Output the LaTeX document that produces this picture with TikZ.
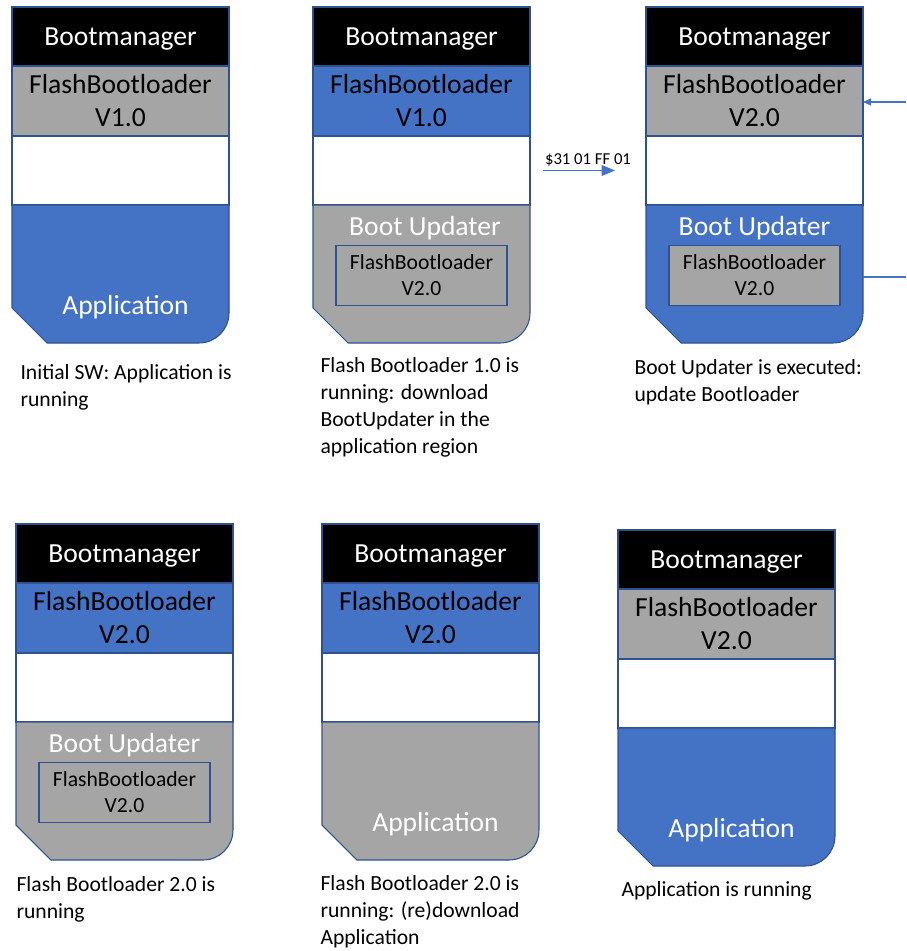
\documentclass[tikz,border=0pt]{standalone}
\usepackage{fontspec}
\setmainfont{Carlito}
\usetikzlibrary{arrows.meta}
\usetikzlibrary{positioning}
\definecolor{edgeblue}{RGB}{47,82,143}
\definecolor{appblue}{RGB}{68,114,196}
\definecolor{bootgray}{RGB}{165,165,165}
\tikzstyle{bootmgr} = [rectangle, minimum width=4.34cm, minimum height=1.18cm, outer sep=0pt, text centered, text depth=0pt, draw=edgeblue, fill=black, text=white, font=\fontsize{15.7}{18.8}\selectfont]
\tikzstyle{fbl} = [rectangle, minimum width=4.34cm, minimum height=1.4cm, outer sep=0pt, align=center, draw=edgeblue, font=\fontsize{15.7}{18.8}\selectfont]
\tikzstyle{freebox} = [rectangle, minimum width=4.34cm, minimum height=1.38cm, outer sep=0pt, draw=edgeblue, fill=white]
\tikzstyle{region} = [rectangle, minimum width=4.34cm, minimum height=2.76cm, outer sep=0pt, inner sep=0pt]
\tikzstyle{regionfill} = [draw=edgeblue]
\tikzstyle{regionlabel} = [text=white, inner sep=0pt, font=\fontsize{15.7}{18.8}\selectfont]
\tikzstyle{fblcopy} = [rectangle, minimum width=3.42cm, minimum height=1.2cm, align=center, draw=edgeblue, font=\fontsize{12.3}{14.8}\selectfont]
\tikzstyle{caption} = [align=left, inner sep=0pt, font=\fontsize{12.3}{15.4}\selectfont]
\tikzstyle{arrow} = [draw=appblue, -{Triangle[length=0.27cm,width=0.22cm]}]
\tikzstyle{link} = [draw=appblue]

\begin{document}
\begin{tikzpicture}[line width=0.6pt]
\useasboundingbox (0,0) rectangle (18.12,-19.02);

% ===== TOP ROW =====

% Panel 1: initial SW
\node (bm1) [bootmgr, anchor=north west] at (0.24,-0.14) {Bootmanager};
\node (fbl1) [fbl, fill=bootgray, below=0pt of bm1] {FlashBootloader\\V1.0};
\node (free1) [freebox, below=0pt of fbl1] {};
\node (reg1) [region, below=0pt of free1] {};
\filldraw [regionfill, fill=appblue] (reg1.north west) -- (reg1.north east) -- ([yshift=0.6cm]reg1.south east) arc[start angle=0, end angle=-90, radius=0.6cm] -- ([xshift=0.7cm]reg1.south west) -- ([yshift=0.7cm]reg1.south west) -- cycle;
\node (app1) [regionlabel] at ([xshift=0.1cm, yshift=0.72cm]reg1.south) {Application};
\node (cap1) [caption, below right=0.42cm and 0.16cm of reg1.south west] {Initial SW: Application is\\running};

% Panel 2: download Boot Updater
\node (bm2) [bootmgr, right=1.68cm of bm1] {Bootmanager};
\node (fbl2) [fbl, fill=appblue, below=0pt of bm2] {FlashBootloader\\V1.0};
\node (free2) [freebox, below=0pt of fbl2] {};
\node (reg2) [region, below=0pt of free2] {};
\filldraw [regionfill, fill=bootgray] (reg2.north west) -- (reg2.north east) -- ([yshift=0.6cm]reg2.south east) arc[start angle=0, end angle=-90, radius=0.6cm] -- ([xshift=0.7cm]reg2.south west) -- ([yshift=0.7cm]reg2.south west) -- cycle;
\node (upd2) [regionlabel] at ([xshift=0.07cm, yshift=-0.46cm]reg2.north) {Boot Updater};
\node (new2) [fblcopy, fill=bootgray, below=0.8cm of reg2.north] {FlashBootloader\\V2.0};
\node (cap2) [caption, below right=0.28cm and 0.14cm of reg2.south west] {Flash Bootloader 1.0 is\\running: download\\BootUpdater in the\\application region};

% Panel 3: Boot Updater executed
\node (bm3) [bootmgr, right=2.32cm of bm2] {Bootmanager};
\node (fbl3) [fbl, fill=bootgray, below=0pt of bm3] {FlashBootloader\\V2.0};
\node (free3) [freebox, below=0pt of fbl3] {};
\node (reg3) [region, below=0pt of free3] {};
\filldraw [regionfill, fill=appblue] (reg3.north west) -- (reg3.north east) -- ([yshift=0.6cm]reg3.south east) arc[start angle=0, end angle=-90, radius=0.6cm] -- ([xshift=0.7cm]reg3.south west) -- ([yshift=0.7cm]reg3.south west) -- cycle;
\node (upd3) [regionlabel] at ([yshift=-0.46cm]reg3.north) {Boot Updater};
\node (new3) [fblcopy, fill=bootgray, below=0.8cm of reg3.north] {FlashBootloader\\V2.0};
\node (cap3) [caption, below right=0.32cm and -0.24cm of reg3.south west] {Boot Updater is executed:\\update Bootloader};

% Request between panel 2 and 3
\draw [arrow, shorten <=0.26cm, shorten >=0.62cm] (free2.east) -- node[above, inner sep=2pt, font=\fontsize{9.5}{11}\selectfont] {\$31 01 FF 01} (free2.east -| free3.west);

% Lines at the right edge
\coordinate (in3) at (18.12,-2.04);
\coordinate (out3) at (18.12,-5.54);
\draw [arrow, -{Triangle[length=0.16cm,width=0.14cm]}] (in3) -- (in3 -| fbl3.east);
\draw [link] (out3 -| reg3.east) -- (out3);

% ===== BOTTOM ROW =====

% Panel 4: Flash Bootloader 2.0 running
\node (bm4) [bootmgr, anchor=north west] at (0.32,-10.48) {Bootmanager};
\node (fbl4) [fbl, fill=appblue, below=0pt of bm4] {FlashBootloader\\V2.0};
\node (free4) [freebox, below=0pt of fbl4] {};
\node (reg4) [region, below=0pt of free4] {};
\filldraw [regionfill, fill=bootgray] (reg4.north west) -- (reg4.north east) -- ([yshift=0.6cm]reg4.south east) arc[start angle=0, end angle=-90, radius=0.6cm] -- ([xshift=0.7cm]reg4.south west) -- ([yshift=0.7cm]reg4.south west) -- cycle;
\node (upd4) [regionlabel] at ([yshift=-0.46cm]reg4.north) {Boot Updater};
\node (new4) [fblcopy, fill=bootgray, below=0.8cm of reg4.north] {FlashBootloader\\V2.0};
\node (cap4) [caption, below right=0.32cm and 0cm of reg4.south west] {Flash Bootloader 2.0 is\\running};

% Panel 5: (re)download Application
\node (bm5) [bootmgr, right=1.78cm of bm4] {Bootmanager};
\node (fbl5) [fbl, fill=appblue, below=0pt of bm5] {FlashBootloader\\V2.0};
\node (free5) [freebox, below=0pt of fbl5] {};
\node (reg5) [region, below=0pt of free5] {};
\filldraw [regionfill, fill=bootgray] (reg5.north west) -- (reg5.north east) -- ([yshift=0.6cm]reg5.south east) arc[start angle=0, end angle=-90, radius=0.6cm] -- ([xshift=0.7cm]reg5.south west) -- ([yshift=0.7cm]reg5.south west) -- cycle;
\node (app5) [regionlabel] at ([xshift=0.1cm, yshift=0.72cm]reg5.south) {Application};
\node (cap5) [caption, below right=0.3cm and -0.04cm of reg5.south west] {Flash Bootloader 2.0 is\\running: (re)download\\Application};

% Panel 6: Application running
\node (bm6) [bootmgr, right=1.58cm of bm5, yshift=-0.12cm] {Bootmanager};
\node (fbl6) [fbl, fill=bootgray, below=0pt of bm6] {FlashBootloader\\V2.0};
\node (free6) [freebox, below=0pt of fbl6] {};
\node (reg6) [region, below=0pt of free6] {};
\filldraw [regionfill, fill=appblue] (reg6.north west) -- (reg6.north east) -- ([yshift=0.6cm]reg6.south east) arc[start angle=0, end angle=-90, radius=0.6cm] -- ([xshift=0.7cm]reg6.south west) -- ([yshift=0.7cm]reg6.south west) -- cycle;
\node (app6) [regionlabel] at ([xshift=0.1cm, yshift=0.72cm]reg6.south) {Application};
\node (cap6) [caption, below right=0.3cm and 0.06cm of reg6.south west] {Application is running};

\end{tikzpicture}
\end{document}
